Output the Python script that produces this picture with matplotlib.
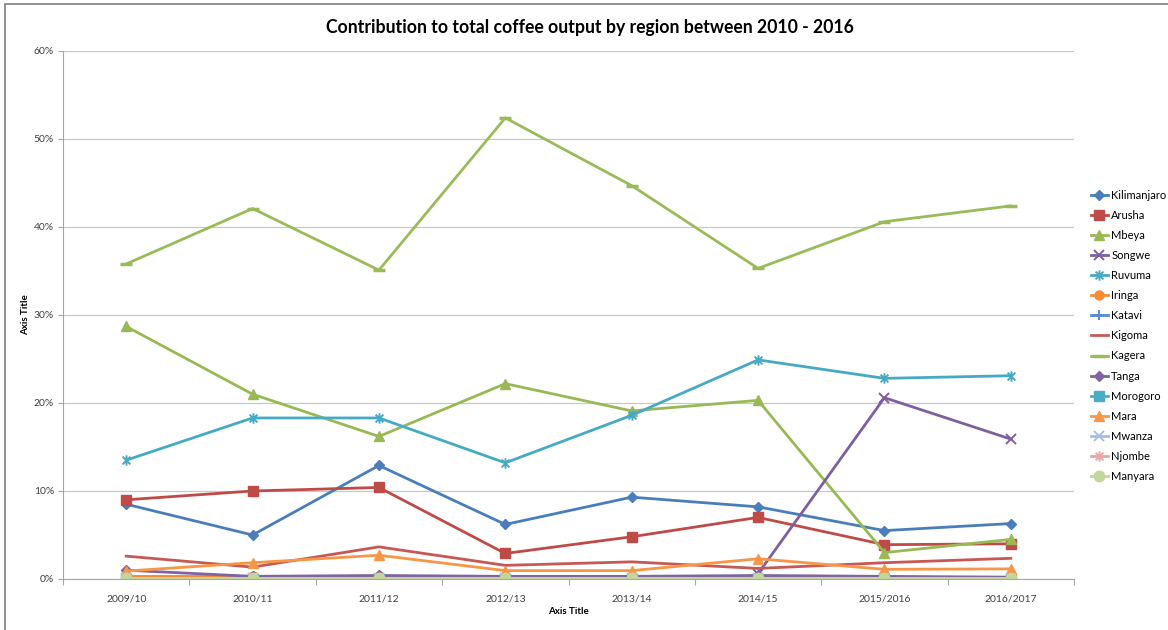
import numpy as np
import matplotlib
matplotlib.use("Agg")
import matplotlib.pyplot as plt
from matplotlib.path import Path
from matplotlib.patches import Rectangle
from matplotlib.ticker import FuncFormatter, FixedLocator

plt.rcParams['font.family'] = ['Lato', 'DejaVu Sans']

seasons = ["2009/10", "2010/11", "2011/12", "2012/13", "2013/14", "2014/15", "2015/2016", "2016/2017"]
nan = np.nan
kilimanjaro = [8.5, 5.0, 12.9, 6.2, 9.3, 8.2, 5.5, 6.3]
arusha      = [9.0, 10.0, 10.4, 2.9, 4.8, 7.0, 3.9, 4.0]
mbeya       = [28.7, 21.0, 16.2, 22.2, 19.1, 20.3, 3.0, 4.5]
songwe      = [nan, nan, nan, nan, nan, 0.6, 20.6, 15.9]
ruvuma      = [13.5, 18.3, 18.3, 13.2, 18.6, 24.9, 22.8, 23.1]
iringa      = [0.3, 0.3, 0.3, 0.2, 0.2, 0.2, 0.2, 0.2]
katavi      = [0.05, 0.05, 0.05, 0.05, 0.05, 0.05, 0.05, 0.05]
kigoma      = [2.6, 1.35, 3.65, 1.55, 1.95, 1.2, 1.85, 2.35]
kagera      = [35.8, 42.1, 35.1, 52.4, 44.7, 35.3, 40.6, 42.4]
tanga       = [1.0, 0.3, 0.4, 0.3, 0.3, 0.4, 0.3, 0.2]
morogoro    = [0.05, 0.05, 0.05, 0.05, 0.05, 0.05, 0.05, 0.05]
mara        = [0.9, 1.85, 2.7, 0.95, 0.95, 2.3, 1.1, 1.15]
mwanza      = [0.1, 0.1, 0.1, 0.1, 0.1, 0.1, 0.1, 0.1]
njombe      = [0.1, 0.1, 0.1, 0.1, 0.1, 0.1, 0.1, 0.1]
manyara     = [0.1, 0.1, 0.1, 0.1, 0.1, 0.1, 0.1, 0.1]
y_ticks = [0, 10, 20, 30, 40, 50, 60]

star = Path([(0, -1), (0, 1), (-0.75, -0.75), (0.75, 0.75), (-0.75, 0.75), (0.75, -0.75)],
            [Path.MOVETO, Path.LINETO, Path.MOVETO, Path.LINETO, Path.MOVETO, Path.LINETO])

series = [
    ("Kilimanjaro", kilimanjaro, "#4A7EBB", "D", 5.5),
    ("Arusha", arusha, "#BE4B48", "s", 6.5),
    ("Mbeya", mbeya, "#98B954", "^", 6.5),
    ("Songwe", songwe, "#7D60A0", "x", 6.5),
    ("Ruvuma", ruvuma, "#46AAC5", star, 7.5),
    ("Iringa", iringa, "#F68C36", "o", 6.5),
    ("Katavi", katavi, "#5A8AD0", "+", 7.5),
    ("Kigoma", kigoma, "#C65956", None, 0),
    ("Kagera", kagera, "#9BBB59", "_", 8),
    ("Tanga", tanga, "#8064A2", "D", 5.5),
    ("Morogoro", morogoro, "#4BACC6", "s", 6.5),
    ("Mara", mara, "#F79646", "^", 6.5),
    ("Mwanza", mwanza, "#A9BCE4", "x", 6.5),
    ("Njombe", njombe, "#E6A9A8", star, 7.5),
    ("Manyara", manyara, "#C3D69B", "o", 7.5),
]

fig = plt.figure(figsize=(11.68, 6.30), dpi=100)
ax = fig.add_axes([63/1168, 1-579/630, (1074-63)/1168, (579-51)/630])

x = np.arange(len(seasons))
for name, vals, col, mk, ms in series:
    kw = dict(color=col, lw=2, label=name)
    if mk is not None:
        kw.update(marker=mk, markersize=ms, markerfacecolor=col, markeredgecolor=col,
                  markeredgewidth=1.4 if mk in ("x", "+") or isinstance(mk, Path) else 1)
        if mk == "_":
            kw.update(markeredgewidth=2.5)
    ax.plot(x, np.array(vals, dtype=float), **kw)

ax.set_xlim(-0.5, len(seasons) - 0.5)
ax.set_ylim(0, 60)
ax.set_yticks(y_ticks)
ax.yaxis.set_major_formatter(FuncFormatter(lambda v, p: f"{int(v)}%"))
ax.set_xticks(x)
ax.set_xticklabels(seasons)
ax.xaxis.set_minor_locator(FixedLocator(np.arange(-0.5, len(seasons), 1.0)))
ax.tick_params(axis='x', which='major', length=0, pad=11, labelsize=7.5, labelcolor="#404040")
ax.tick_params(axis='x', which='minor', length=4, color="#A6A6A6", width=0.8)
ax.tick_params(axis='y', which='major', length=3.5, color="#A6A6A6", width=0.8, labelsize=7.5,
               labelcolor="#404040", pad=3)
ax.grid(axis='y', color="#C8C8C8", lw=0.9)
ax.set_axisbelow(True)
for s in ("top", "right"):
    ax.spines[s].set_visible(False)
for s in ("left", "bottom"):
    ax.spines[s].set_color("#A6A6A6")
    ax.spines[s].set_linewidth(0.8)

fig.text(568/1168, 1-611/630, "Axis Title", ha="center", va="center", fontsize=7, fontweight="bold")
fig.text(26/1168, 1-315/630, "Axis Title", ha="center", va="center", fontsize=7, fontweight="bold", rotation=90)
fig.text(590/1168, 1-27/630, "Contribution to total coffee output by region between 2010 - 2016",
         ha="center", va="center", fontsize=12.7, fontweight="bold")

leg = fig.legend(loc="upper left", bbox_to_anchor=(1085/1168, 1-184/630), frameon=False,
                 fontsize=8, handlelength=1.6, handletextpad=0.25, labelspacing=0.82, borderpad=0)

fig.add_artist(Rectangle((5/1168, -0.05), 1.2, 1 - 4/630 + 0.05, transform=fig.transFigure,
                         fill=False, edgecolor="#7F7F7F", lw=1.2, clip_on=False))

fig.savefig("out.png", dpi=100)
